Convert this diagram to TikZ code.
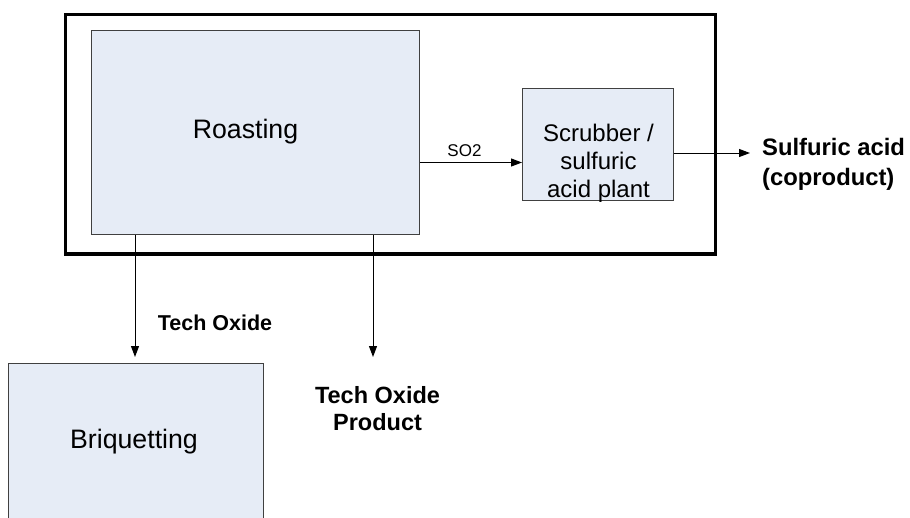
\documentclass[tikz,border=0pt]{standalone}
\usepackage{fontspec}
\setmainfont{Liberation Sans}
\usetikzlibrary{arrows.meta}
\definecolor{boxfill}{RGB}{230,236,246}
\definecolor{boxline}{RGB}{64,64,64}
\begin{document}
\begin{tikzpicture}[x=1pt,y=-1pt,
  procbox/.style={draw=boxline,fill=boxfill,line width=1pt,inner sep=0pt,anchor=north west},
  framebox/.style={draw=black,line width=3.5pt,inner sep=0pt,anchor=north west},
  flow/.style={line width=1pt,-{Triangle[length=11pt,width=8pt]}},
  bigtxt/.style={font=\fontsize{26.7}{32}\selectfont,inner sep=0pt},
  midtxt/.style={font=\fontsize{24}{28}\selectfont,inner sep=0pt,align=center},
  boldtxt/.style={font=\bfseries\fontsize{23.5}{27}\selectfont,inner sep=0pt},
  smalltxt/.style={font=\fontsize{17}{20}\selectfont,inner sep=0pt}]
\useasboundingbox (0,0) rectangle (910,517);
\clip (0,0) rectangle (910,517);
% frame
\node[framebox,minimum width=650pt,minimum height=239.5pt] (plant) at (63.5,12.5) {};
% boxes
\node[procbox,minimum width=328pt,minimum height=204pt] (roast) at (91,30) {};
\node[procbox,minimum width=151pt,minimum height=112pt] (scrub) at (522,88) {};
\node[procbox,minimum width=255pt,minimum height=180pt] (briq) at (8,363) {};
% texts
\node[bigtxt,anchor=base] (roasttxt) at (245.5,138) {Roasting};
\node[bigtxt,anchor=base] (briqtxt) at (134,448) {Briquetting};
\node[midtxt,anchor=base] (scrubtxt) at (598.5,197) {Scrubber /\\sulfuric\\acid plant};
\node[smalltxt,anchor=base] (so2) at (464.5,156) {SO2};
\node[boldtxt,font=\bfseries\fontsize{23.8}{30}\selectfont,align=left,anchor=base west] (acid) at (762,185) {Sulfuric acid\\(coproduct)};
\node[boldtxt,font=\bfseries\fontsize{21.5}{26}\selectfont,anchor=base] (techox) at (215,330) {Tech Oxide};
\node[boldtxt,align=center,anchor=base] (techprod) at (377.5,430) {Tech Oxide\\Product};
% connectors
\coordinate (acidend) at (750,153);
\coordinate (prodend) at (373,357);
\draw[flow] (roast.east |- 0,162.5) -- (scrub.west |- 0,162.5);
\draw[flow] (scrub.east |- acidend) -- (acidend);
\draw[flow,shorten >=6pt] (roast.south -| 135,0) -- (briq.north -| 135,0);
\draw[flow] (roast.south -| prodend) -- (prodend);
\end{tikzpicture}
\end{document}
